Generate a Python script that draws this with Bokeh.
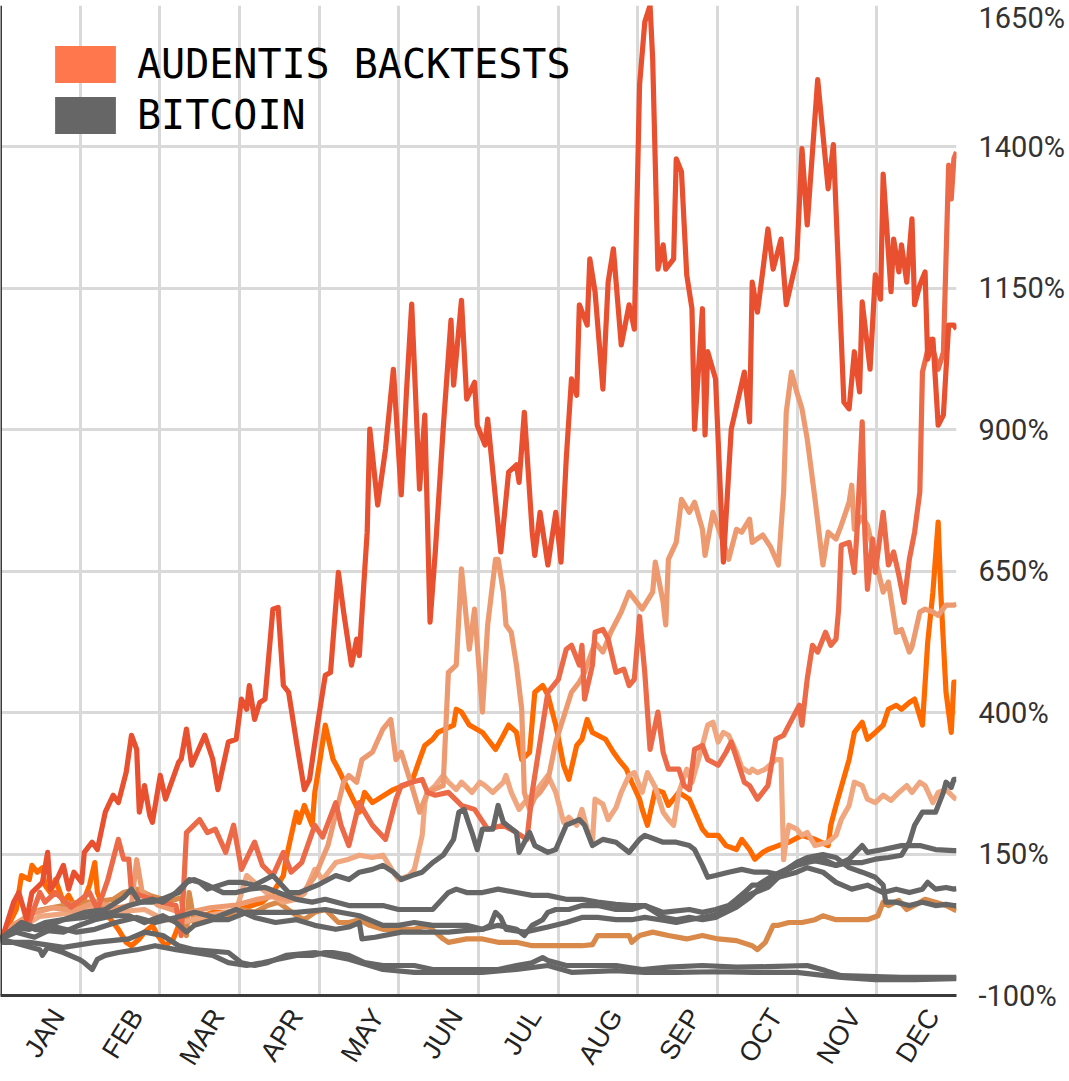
import math
from bokeh.plotting import figure
from bokeh.models import Range1d, FixedTicker, PrintfTickFormatter, Span, Legend, LegendItem
from bokeh.embed import file_html
from bokeh.resources import INLINE

MONTHS = ["JAN", "FEB", "MAR", "APR", "MAY", "JUN", "JUL", "AUG", "SEP", "OCT", "NOV", "DEC"]
Y_TICKS = [-100, 150, 400, 650, 900, 1150, 1400, 1650]

# (day of year, cumulative return %)
R1 = [(0,0),(1,6),(5,65),(7,82),(10,34),(12,82),(16,100),(18,153),(19,88),(21,100),(24,130),(26,88),(28,118),(31,100),(32,153),(35,171),(37,158),(40,224),(43,254),(45,241),(48,295),(50,360),(52,335),(53,224),(55,271),(57,218),(58,206),(61,289),(63,247),(68,312),(69,318),(71,371),(73,307),(78,360),(81,318),(83,264),(87,348),(90,353),(92,424),(94,406),(95,448),(97,388),(99,418),(101,424),(104,583),(106,586),(108,448),(110,436),(113,348),(116,264),(118,282),(121,378),(124,466),(126,471),(129,648),(131,578),(134,484),(136,530),(137,501),(139,648),(140,719),(141,901),(144,767),(147,866),(150,1007),(153,785),(155,967),(157,1122),(160,795),(162,926),(164,560),(166,684),(169,901),(172,1094),(173,979),(176,1129),(178,954),(181,984),(182,908),(185,873),(186,919),(188,825),(191,684),(194,825),(197,838),(198,807),(200,931),(203,719),(204,678),(206,754),(209,661),(212,754),(214,666),(216,848),(218,990),(220,961),(221,1121),(224,1085),(225,1202),(227,1144),(230,972),(232,1161),(234,1220),(237,1050),(240,1121),(242,1078),(243,1298),(244,1510),(246,1621),(248,1650),(249,1556),(251,1184),(253,1227),(254,1184),(257,1202),(258,1379),(260,1356),(262,1174),(264,1114),(265,901),(268,1114),(269,891),(270,1038),(273,990),(276,666),(279,901),(284,1002),(286,914),(287,1161),(289,1108),(291,1179),(293,1255),(295,1184),(298,1237),(300,1121),(304,1202),(306,1397),(308,1262),(312,1519),(316,1326),(318,1404),(322,949),(324,937),(326,1038),(328,967),(329,1126),(332,1007),(334,1174),(336,1131),(337,1352),(340,1144),(341,1237),(343,1179),(344,1227),(346,1161),(348,1273),(349,1121),(351,1156),(353,1179),(354,1025),(356,1060),(358,908),(360,926),(362,1085),(364,1085),(365,1078)]

R2 = [(0,0),(4,10),(11,30),(15,82),(17,65),(21,82),(27,56),(34,82),(37,52),(41,105),(45,176),(47,141),(49,141),(50,82),(54,76),(62,65),(67,59),(69,6),(71,188),(76,211),(79,188),(82,194),(86,153),(89,201),(92,123),(97,171),(100,130),(104,112),(108,153),(111,118),(115,135),(120,201),(123,180),(128,241),(130,201),(133,165),(137,241),(139,224),(142,201),(147,176),(151,247),(153,271),(157,277),(161,282),(163,259),(166,254),(171,259),(176,236),(181,229),(186,194),(192,201),(197,188),(201,176),(203,259),(207,378),(209,436),(213,459),(216,512),(218,519),(221,484),(222,519),(223,424),(226,484),(227,542),(230,547),(232,530),(235,471),(238,477),(240,448),(242,459),(244,570),(246,470),(248,335),(251,401),(253,330),(255,300),(259,300),(261,271),(263,264),(265,335),(268,342),(270,317),(274,307),(277,330),(279,348),(284,277),(286,271),(289,247),(293,271),(296,353),(299,360),(301,378),(305,413),(306,378),(308,459),(310,519),(312,507),(315,542),(317,519),(319,530),(320,583),(321,696),(324,701),(326,648),(327,719),(329,914),(330,719),(331,618),(333,707),(334,648),(337,754),(339,661),(341,684),(343,643),(345,595),(347,671),(349,719),(351,790),(352,1002),(355,1060),(358,1007),(360,1037),(362,1368),(363,1308),(364,1379),(365,1391)]

O1 = [(0,0),(3,24),(6,52),(8,112),(11,105),(12,130),(14,118),(16,126),(17,95),(19,82),(21,105),(24,65),(26,77),(29,52),(31,59),(34,95),(36,135),(37,82),(40,47),(43,29),(45,17),(48,-6),(50,-12),(53,0),(55,12),(58,24),(60,6),(63,-12),(66,0),(68,24),(74,35),(81,47),(87,47),(94,56),(100,65),(104,82),(108,112),(109,141),(111,183),(113,224),(114,206),(116,236),(119,201),(120,259),(122,317),(124,378),(127,317),(129,300),(132,271),(137,224),(139,259),(142,241),(150,264),(157,277),(160,317),(162,342),(165,353),(167,365),(173,378),(174,406),(176,401),(179,378),(184,365),(186,353),(189,335),(192,360),(194,378),(197,365),(199,317),(202,330),(204,436),(207,448),(209,431),(212,378),(215,307),(217,282),(220,342),(222,353),(224,388),(226,365),(231,353),(234,330),(236,317),(239,300),(241,277),(244,247),(245,229),(247,201),(250,264),(253,259),(255,236),(259,259),(263,247),(268,194),(270,183),(274,183),(277,165),(281,158),(283,176),(286,158),(288,141),(291,153),(293,158),(297,165),(301,171),(306,183),(311,176),(316,165),(317,201),(319,236),(324,317),(326,365),(329,383),(331,353),(334,365),(337,378),(339,406),(342,413),(344,406),(347,418),(349,424),(352,378),(354,524),(356,613),(358,737),(359,613),(361,436),(363,365),(364,454),(365,454)]

S1 = [(0,0),(5,25),(12,45),(20,55),(28,50),(36,65),(45,55),(50,60),(52,140),(54,85),(60,60),(70,45),(80,55),(90,60),(98,70),(104,75),(110,70),(116,85),(120,110),(125,165),(131,277),(133,289),(136,277),(138,317),(142,330),(146,371),(149,388),(151,317),(153,330),(157,271),(160,224),(163,259),(169,271),(171,471),(174,484),(176,654),(179,512),(181,583),(184,401),(186,555),(189,671),(190,671),(192,613),(193,555),(195,542),(197,484),(199,406),(200,259),(202,229),(204,250),(206,259),(209,280),(212,348),(218,436),(221,454),(223,471),(227,524),(230,507),(233,542),(237,578),(240,613),(242,601),(245,583),(249,613),(250,666),(253,595),(254,555),(255,671),(258,701),(260,777),(263,754),(265,772),(268,724),(269,678),(272,754),(276,701),(278,671),(281,724),(283,719),(286,742),(287,701),(291,714),(294,693),(297,661),(299,790),(300,931),(302,1002),(304,967),(306,937),(308,884),(311,777),(314,661),(316,719),(319,707),(321,731),(324,772),(325,802),(326,724),(329,746),(331,731),(334,671),(337,613),(339,631),(342,542),(344,547),(347,507),(348,516),(351,578),(353,583),(356,578),(358,572),(361,590),(364,590),(365,592)]

S2 = [(0,0),(8,20),(15,40),(25,45),(35,55),(45,48),(55,52),(62,35),(70,30),(80,42),(90,50),(94,112),(97,100),(102,80),(108,65),(113,70),(116,80),(120,123),(123,105),(128,135),(133,141),(137,148),(142,144),(146,148),(150,118),(152,105),(156,112),(158,123),(161,183),(162,241),(163,259),(166,271),(169,289),(171,277),(174,264),(176,277),(180,259),(183,277),(185,271),(188,259),(192,277),(193,289),(195,259),(198,229),(200,241),(204,259),(207,277),(209,289),(212,259),(215,206),(217,215),(220,201),(222,229),(224,194),(226,171),(227,247),(230,238),(232,211),(235,232),(237,259),(240,289),(242,294),(245,259),(247,294),(250,268),(253,224),(255,211),(257,201),(259,259),(262,300),(264,277),(268,342),(270,378),(272,383),(274,348),(276,365),(278,360),(281,330),(283,303),(286,294),(287,300),(289,294),(292,300),(296,317),(298,317),(299,140),(300,176),(301,201),(304,194),(306,183),(308,188),(311,165),(316,171),(319,183),(321,211),(324,236),(326,277),(329,271),(331,247),(334,241),(337,254),(340,245),(343,259),(346,271),(348,259),(351,277),(353,271),(356,241),(358,259),(361,264),(364,250),(365,247)]

B1 = [(0,0),(5,20),(10,40),(15,51),(24,59),(30,65),(36,65),(43,70),(47,82),(52,88),(57,77),(62,70),(67,70),(69,73),(71,6),(72,82),(74,29),(81,41),(87,41),(92,52),(97,47),(102,59),(106,65),(113,41),(116,34),(120,47),(124,52),(129,29),(133,29),(137,34),(141,24),(146,17),(152,17),(158,17),(163,24),(166,12),(169,0),(171,-6),(178,0),(184,0),(190,-6),(197,-6),(203,-12),(209,-12),(216,-12),(222,-12),(226,-10),(228,6),(235,6),(240,6),(241,-6),(244,6),(249,12),(255,6),(262,0),(268,6),(274,0),(281,-3),(287,-12),(289,-19),(292,-6),(295,24),(297,24),(301,29),(306,29),(311,34),(314,41),(319,34),(325,34),(331,34),(335,41),(337,65),(339,59),(343,68),(346,52),(349,59),(353,70),(357,65),(361,59),(364,52),(365,50)]

G1 = [(0,0),(6,20),(11,17),(17,29),(24,34),(32,38),(43,47),(49,59),(58,70),(62,65),(67,82),(71,100),(74,105),(79,95),(85,82),(90,82),(95,88),(101,91),(106,82),(113,70),(119,65),(124,70),(133,59),(146,59),(152,52),(158,52),(165,52),(171,82),(174,88),(178,82),(184,82),(190,88),(197,82),(203,77),(209,77),(216,70),(222,70),(228,65),(235,61),(241,59),(246,59),(253,47),(263,52),(268,47),(273,52),(278,59),(281,70),(284,82),(287,95),(289,95),(295,112),(300,123),(304,135),(308,141),(314,135),(319,130),(324,135),(329,135),(334,141),(339,144),(344,148),(347,171),(349,201),(352,224),(354,224),(357,224),(360,259),(361,277),(363,268),(364,282),(365,282)]

G2 = [(0,0),(8,29),(15,17),(24,34),(32,47),(40,52),(47,73),(50,88),(53,65),(58,65),(63,73),(68,82),(72,105),(76,100),(79,88),(87,100),(92,100),(97,95),(104,112),(110,82),(114,82),(121,95),(128,112),(133,105),(137,118),(142,123),(146,130),(150,118),(153,105),(157,112),(161,118),(165,135),(169,148),(173,176),(175,224),(177,229),(179,201),(180,188),(182,158),(184,194),(188,194),(190,236),(192,206),(197,188),(198,153),(202,188),(204,165),(209,153),(212,158),(216,201),(221,211),(223,201),(226,165),(230,176),(235,171),(240,153),(244,176),(246,183),(253,171),(258,171),(263,165),(265,158),(268,130),(270,109),(273,112),(278,118),(283,123),(288,118),(293,118),(297,114),(304,130),(308,135),(314,141),(319,130),(324,141),(329,165),(331,153),(337,158),(344,165),(351,165),(357,158),(364,156),(365,156)]

G3 = [(0,0),(8,29),(13,17),(24,12),(30,24),(36,34),(43,41),(49,41),(55,29),(62,41),(67,29),(71,12),(74,24),(81,34),(87,34),(94,47),(100,47),(113,47),(124,52),(137,41),(146,24),(152,24),(158,29),(165,24),(171,24),(178,24),(184,17),(190,24),(197,17),(200,6),(203,24),(207,34),(209,47),(212,52),(217,52),(222,59),(228,59),(235,52),(241,52),(246,59),(253,38),(258,34),(263,38),(268,34),(273,38),(281,56),(286,73),(291,95),(297,109),(304,118),(308,126),(314,118),(319,100),(325,88),(331,95),(337,82),(342,88),(347,82),(352,88),(354,100),(357,88),(361,91),(364,88),(365,89)]

G4 = [(0,0),(6,12),(13,3),(21,21),(29,12),(36,17),(44,29),(52,38),(59,29),(67,38),(74,47),(82,38),(90,52),(97,38),(105,29),(113,34),(120,24),(128,17),(133,21),(137,29),(138,0),(143,3),(153,12),(162,12),(171,12),(178,15),(184,17),(187,24),(189,47),(191,38),(193,17),(200,12),(209,21),(216,29),(222,38),(228,38),(235,34),(241,34),(246,38),(253,33),(258,29),(263,34),(268,38),(273,43),(278,52),(283,73),(288,82),(293,91),(299,118),(304,135),(308,144),(314,149),(319,144),(324,126),(329,118),(334,109),(337,95),(338,65),(342,65),(347,59),(352,65),(357,59),(361,61),(364,59),(365,59)]

G5 = [(0,0),(15,-19),(16,-29),(18,-15),(24,-24),(30,-36),(32,-42),(35,-54),(37,-36),(40,-29),(45,-24),(52,-19),(59,-12),(67,-19),(74,-24),(81,-29),(87,-42),(94,-47),(100,-42),(106,-36),(113,-29),(119,-29),(124,-24),(127,-24),(133,-29),(139,-42),(146,-47),(152,-47),(158,-47),(165,-54),(171,-54),(178,-54),(184,-54),(190,-54),(197,-47),(203,-42),(207,-33),(209,-38),(216,-47),(222,-47),(228,-47),(235,-47),(245,-54),(255,-50),(268,-47),(281,-50),(293,-49),(308,-47),(315,-56),(321,-65),(331,-66),(344,-68),(364,-68),(365,-68)]

G6 = [(0,0),(1,-6),(11,-6),(17,-10),(24,-15),(36,-6),(49,0),(55,12),(62,6),(68,-12),(74,-19),(87,-24),(92,-42),(97,-47),(102,-42),(109,-29),(120,-24),(133,-36),(146,-54),(158,-59),(165,-59),(171,-59),(184,-59),(197,-54),(209,-47),(218,-59),(235,-56),(246,-59),(258,-59),(273,-58),(288,-59),(304,-59),(315,-65),(321,-68),(334,-72),(349,-72),(364,-70),(365,-70)]

AUDENTIS_SERIES = [(O1, "#FF6A00"), (B1, "#D98A4A"), (S2, "#F0A67E"), (S1, "#EE9A70"), (R2, "#EC6A48"), (R1, "#E8502F")]
BITCOIN_SERIES = [G1, G2, G3, G4, G5, G6]
BITCOIN_COLOR = "#666666"
LEGEND_COLORS = ["#FF784D", "#666666"]
LEGEND_LABELS = ["AUDENTIS BACKTESTS", "BITCOIN"]

DAYS_IN_YEAR = 365
month_edges = [i * DAYS_IN_YEAR / 12 for i in range(1, 13)]
label_days = [round((i + 0.72) * DAYS_IN_YEAR / 12) for i in range(12)]

p = figure(frame_width=956, frame_height=990,
           x_range=Range1d(0, DAYS_IN_YEAR), y_range=Range1d(-100, 1650),
           y_axis_location="right", output_backend="svg", toolbar_location=None,
           min_border_left=0, min_border_top=5, min_border_right=0, min_border_bottom=0,
           background_fill_color="white", border_fill_color="white")
p.outline_line_color = None

# grid
p.xgrid.ticker = FixedTicker(ticks=month_edges)
p.ygrid.ticker = FixedTicker(ticks=Y_TICKS)
for g in (p.xgrid, p.ygrid):
    g.grid_line_color = "#d9d9d9"
    g.grid_line_width = 3

# x axis
xa = p.xaxis[0]
xa.ticker = FixedTicker(ticks=label_days)
xa.major_label_overrides = {d: m for d, m in zip(label_days, MONTHS)}
xa.major_label_orientation = math.radians(58)
xa.major_tick_line_color = None
xa.minor_tick_line_color = None
xa.axis_line_color = "#3a3a3a"
xa.axis_line_width = 3
xa.major_label_standoff = 10
xa.major_label_text_font = "Liberation Sans"
xa.major_label_text_font_size = "27px"
xa.major_label_text_color = "#222222"

# y axis (right)
ya = p.yaxis[0]
ya.ticker = FixedTicker(ticks=Y_TICKS)
ya.formatter = PrintfTickFormatter(format="%d%%")
ya.axis_line_color = None
ya.major_tick_line_color = None
ya.minor_tick_line_color = None
ya.major_label_standoff = 16
ya.major_label_text_font = "Roboto"
ya.major_label_text_font_size = "29px"
ya.major_label_text_color = "#333333"

p.add_layout(Span(location=0, dimension="height", line_color="#3a3a3a", line_width=3))

for series, color in AUDENTIS_SERIES:
    xs = [d for d, v in series]
    ys = [v for d, v in series]
    p.line(xs, ys, line_color=color, line_width=5.2, line_join="round")

for series in BITCOIN_SERIES:
    xs = [d for d, v in series]
    ys = [v for d, v in series]
    p.line(xs, ys, line_color=BITCOIN_COLOR, line_width=5.2, line_join="round")

nan = float("nan")
items = []
for label, color in zip(LEGEND_LABELS, LEGEND_COLORS):
    r = p.quad(left=[nan], right=[nan], top=[nan], bottom=[nan], fill_color=color, line_color=None)
    items.append(LegendItem(label=label, renderers=[r]))

legend = Legend(items=items, location=(47, 857), orientation="vertical",
                glyph_width=76, glyph_height=46, label_standoff=14, spacing=5,
                padding=0, margin=0, border_line_color=None, background_fill_alpha=0,
                label_text_font="DejaVu Sans Mono", label_text_font_size="40px",
                label_text_color="#000000")
p.add_layout(legend)

open("out.html", "w").write(file_html(p, INLINE))
